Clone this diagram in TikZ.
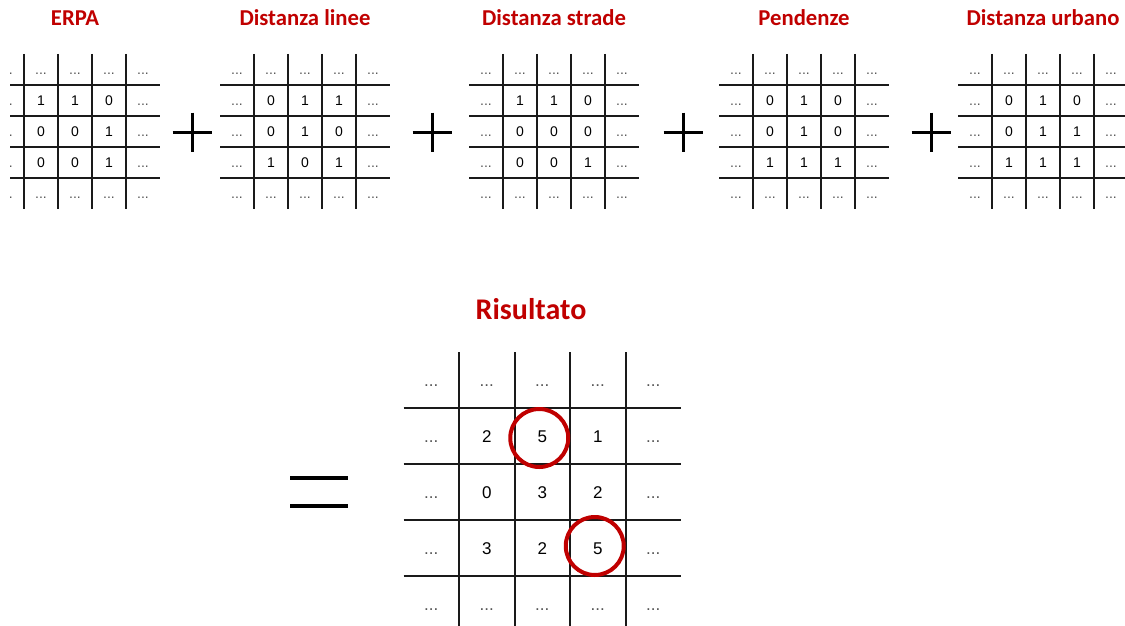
\documentclass[tikz,border=0pt]{standalone}
\usepackage{fontspec}
\setmainfont{Liberation Sans}
\newfontfamily\titlefont{Carlito}
\usetikzlibrary{positioning, calc}
\definecolor{rosso}{HTML}{C00000}
\definecolor{linea}{HTML}{1A1A1A}
\definecolor{puntini}{HTML}{555555}

\begin{document}
\begin{tikzpicture}[
    x=1pt, y=-1pt,
    griglia/.style={line width=2pt, linea},
    titolo/.style={anchor=base, font=\titlefont\bfseries\fontsize{22.7}{27}\selectfont, text=rosso},
    titologrande/.style={titolo, font=\titlefont\bfseries\fontsize{30}{36}\selectfont},
    cella/.style={inner sep=0pt, text height=10pt, text depth=0pt, font=\fontsize{14}{16}\selectfont},
    vuota/.style={cella, text=puntini},
    cellagrande/.style={inner sep=0pt, text height=12pt, text depth=0pt, font=\fontsize{17}{20}\selectfont},
    vuotagrande/.style={cellagrande, text=puntini},
    segno/.style={line width=3pt, black},
    cerchio/.style={line width=4pt, rosso}
  ]

  \useasboundingbox (0,0) rectangle (1125,626);
  \clip (10,0) rectangle (1125,626);

  % Griglie piccole (5x5 celle, 34 x 31)
  \foreach \gx/\gn/\gt/\gv in {
      -10/erpa/ERPA/{1,1,0,0,0,1,0,0,1},
      220/linee/Distanza linee/{0,1,1,0,1,0,1,0,1},
      469/strade/Distanza strade/{1,1,0,0,0,0,0,0,1},
      719/pend/Pendenze/{0,1,0,0,1,0,1,1,1},
      958/urb/Distanza urbano/{0,1,0,0,1,1,1,1,1}} {
    \begin{scope}[shift={(\gx,54)}]
      \node[titolo] (t-\gn) at (85,-28) {\gt};
      \foreach \k in {1,...,4} {
        \draw[griglia] (34*\k,0) -- (34*\k,155);
        \draw[griglia] (0,31*\k) -- (170,31*\k);
      }
      % bordo con puntini
      \foreach \riga in {0,...,4} {
        \node[vuota] (\gn-\riga-0) at (17,15.5+31*\riga) {...};
        \node[vuota] (\gn-\riga-4) at (153,15.5+31*\riga) {...};
      }
      \foreach \col in {1,2,3} {
        \node[vuota] (\gn-0-\col) at (17+34*\col,15.5) {...};
        \node[vuota] (\gn-4-\col) at (17+34*\col,139.5) {...};
      }
      % valori interni
      \foreach \v [count=\k from 0] in \gv {
        \pgfmathtruncatemacro\riga{int(\k/3)+1}
        \pgfmathtruncatemacro\col{mod(\k,3)+1}
        \node[cella] (\gn-\riga-\col) at (17+34*\col,15.5+31*\riga) {\v};
      }
    \end{scope}
  }

  % Segni +
  \foreach \px in {192,432,683,931} {
    \draw[segno] (\px-19.5,132) -- (\px+19.5,132) (\px,112.5) -- (\px,151.5);
  }

  % Segno =
  \draw[line width=4pt] (290,478) -- (348,478) (290,506) -- (348,506);

  % Risultato (5x5 celle, 55.5 x 56)
  \node[titologrande] (t-ris) at (531,319) {Risultato};
  \begin{scope}[shift={(403.5,352)}]
    \foreach \k in {1,...,4} {
      \draw[griglia] (55.5*\k,0) -- (55.5*\k,280);
      \draw[griglia] (0,56*\k) -- (277.5,56*\k);
    }
    \foreach \riga in {0,...,4} {
      \node[vuotagrande] (ris-\riga-0) at (27.75,28+56*\riga) {...};
      \node[vuotagrande] (ris-\riga-4) at (249.75,28+56*\riga) {...};
    }
    \foreach \col in {1,2,3} {
      \node[vuotagrande] (ris-0-\col) at (27.75+55.5*\col,28) {...};
      \node[vuotagrande] (ris-4-\col) at (27.75+55.5*\col,252) {...};
    }
    \foreach \v [count=\k from 0] in {2,5,1,0,3,2,3,2,5} {
      \pgfmathtruncatemacro\riga{int(\k/3)+1}
      \pgfmathtruncatemacro\col{mod(\k,3)+1}
      \node[cellagrande] (ris-\riga-\col) at (27.75+55.5*\col,28+56*\riga) {\v};
    }
  \end{scope}

  % Massimi cerchiati
  \draw[cerchio] ($(ris-1-2)+(-3,2)$) circle[radius=29];
  \draw[cerchio] ($(ris-3-3)+(-3,-2)$) circle[radius=29];

\end{tikzpicture}
\end{document}
